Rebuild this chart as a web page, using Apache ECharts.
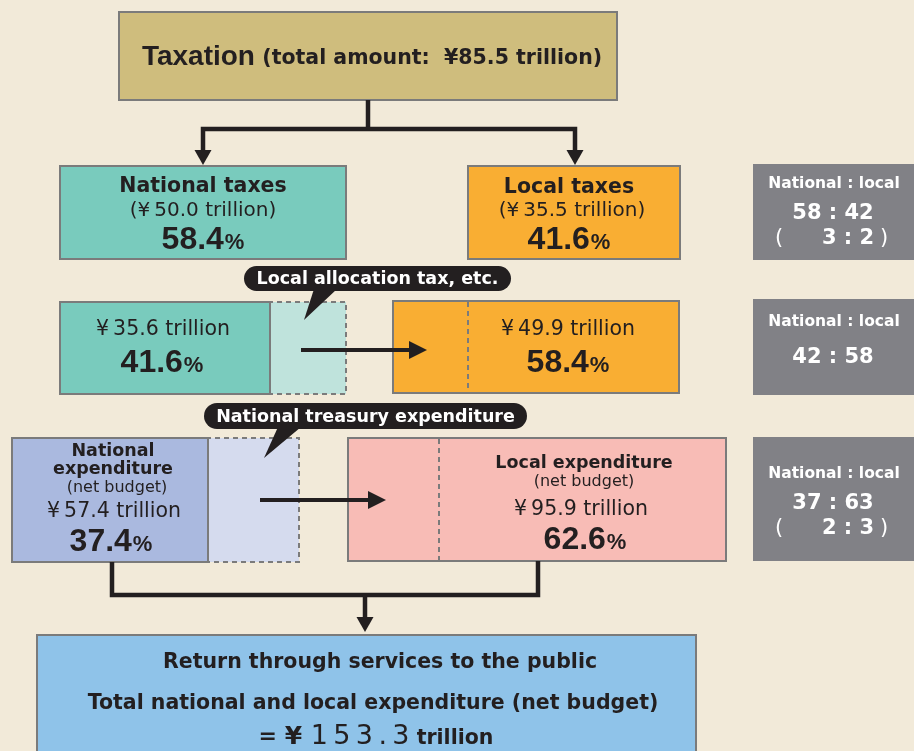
<!DOCTYPE html>
<html>
<head>
<meta charset="utf-8">
<script src="https://cdn.jsdelivr.net/npm/echarts@6/dist/echarts.min.js"></script>
<style>
  html, body { margin: 0; padding: 0; background: #f2ead9; }
  #main { width: 914px; height: 751px; }
</style>
</head>
<body>
<div id="main"></div>
<script>
// values (trillion yen / percent)
const totalTax = 85.5
const totalExpenditure = 153.3
const nationalAmounts = [50.0, 35.6, 57.4]   // taxes, after transfer, expenditure
const localAmounts = [35.5, 49.9, 95.9]
const nationalShares = [58.4, 41.6, 37.4]
const localShares = [41.6, 58.4, 62.6]
const ratioLabels = ['58 : 42', '42 : 58', '37 : 63']
const simpleRatios = ['3 : 2', '', '2 : 3']
const transferLabels = ['Local allocation tax, etc.', 'National treasury expenditure']

const WIDE = '"DejaVu Sans", sans-serif'
const ARIAL = '"Liberation Sans", Arial, sans-serif'
const INK = '#231f20'
const EDGE = '#7b7b7b'

function yen(v) {
  return '¥\u2009' + v.toFixed(1) + ' trillion'
}
function pct(v) {
  return '{n|' + v.toFixed(1) + '}{p|%}'
}
const pctRich = {
  n: { fontFamily: ARIAL, fontWeight: 'bold', fontSize: 32, fill: INK },
  p: { fontFamily: ARIAL, fontWeight: 'bold', fontSize: 22, fill: INK, padding: [6, 0, 0, 1] }
}

function box(x, y, w, h, fill, dashed) {
  return {
    type: 'rect', z: dashed ? 1 : 2,
    shape: { x: x, y: y, width: w, height: h },
    style: { fill: fill, stroke: EDGE, lineWidth: 2, lineDash: dashed ? [5, 4] : null }
  }
}
function txt(text, x, y, size, weight, font, color, rich) {
  return {
    type: 'text', z: 10,
    style: {
      text: text, x: x, y: y,
      fontFamily: font || WIDE, fontSize: size, fontWeight: weight || 'normal',
      fill: color || INK,
      align: 'center', verticalAlign: 'middle',
      textAlign: 'center', textVerticalAlign: 'middle',
      rich: rich
    }
  }
}
function vdash(x, y1, y2) {
  return { type: 'line', z: 3, shape: { x1: x, y1: y1, x2: x, y2: y2 },
    style: { stroke: EDGE, lineWidth: 2, lineDash: [5, 4] } }
}
function arrowRight(x1, x2, y) {
  return [
    { type: 'line', z: 6, shape: { x1: x1, y1: y, x2: x2 - 12, y2: y }, style: { stroke: INK, lineWidth: 4 } },
    { type: 'polygon', z: 6, shape: { points: [[x2 - 18, y - 9], [x2, y], [x2 - 18, y + 9]] }, style: { fill: INK } }
  ]
}
function arrowHeadDown(x, tip) {
  return { type: 'polygon', z: 6, shape: { points: [[x - 8.5, tip - 15], [x + 8.5, tip - 15], [x, tip]] }, style: { fill: INK } }
}
function bubble(x, y, w, h, tail, label) {
  return [
    { type: 'rect', z: 7, shape: { x: x, y: y, width: w, height: h, r: h / 2 }, style: { fill: INK } },
    { type: 'polygon', z: 7, shape: { points: tail }, style: { fill: INK } },
    txt(label, x + w / 2, y + h / 2 + 1, 17.5, 'bold', WIDE, '#ffffff')
  ]
}
function ratioBox(y, h, i, headY) {
  let els = [
    { type: 'rect', z: 2, shape: { x: 753, y: y, width: 170, height: h }, style: { fill: '#818186' } },
    txt('National : local', 834, headY, 15.5, 'bold', WIDE, '#ffffff'),
    txt(ratioLabels[i], 833, headY + (simpleRatios[i] ? 30 : 36), 21, 'bold', WIDE, '#ffffff')
  ]
  if (simpleRatios[i]) {
    let ry = headY + 55
    els.push(txt('(', 779, ry, 21, 'normal', WIDE, '#ffffff'))
    els.push(txt(simpleRatios[i], 848, ry, 21, 'bold', WIDE, '#ffffff'))
    els.push(txt(')', 884, ry, 21, 'normal', WIDE, '#ffffff'))
  }
  return els
}

let graphics = []

// taxation total
graphics.push(box(119, 12, 498, 88, '#cfbd7d'))
graphics.push(txt('{a|Taxation} {b|(total amount:  ¥' + totalTax.toFixed(1) + ' trillion)}', 372, 57, 21, 'bold', WIDE, INK, {
  a: { fontFamily: ARIAL, fontWeight: 'bold', fontSize: 28, fill: INK },
  b: { fontFamily: WIDE, fontWeight: 'bold', fontSize: 20.5, fill: INK, padding: [3, 0, 0, 0] }
}))
graphics.push({ type: 'line', z: 5, shape: { x1: 368, y1: 100, x2: 368, y2: 129 }, style: { stroke: INK, lineWidth: 4.5 } })
graphics.push({ type: 'polyline', z: 5, shape: { points: [[203, 153], [203, 129], [575, 129], [575, 153]] }, style: { stroke: INK, lineWidth: 4.5, lineJoin: 'miter' } })
graphics.push(arrowHeadDown(203, 165))
graphics.push(arrowHeadDown(575, 165))

// row 1: taxes
graphics.push(box(60, 166, 286, 93, '#79cbbd'))
graphics.push(txt('National taxes', 203, 187, 20.5, 'bold'))
graphics.push(txt('(' + yen(nationalAmounts[0]) + ')', 203, 211, 20))
graphics.push(txt(pct(nationalShares[0]), 203, 240, 32, 'bold', ARIAL, INK, pctRich))

graphics.push(box(468, 166, 212, 93, '#f9ae33'))
graphics.push(txt('Local taxes', 569, 188, 20.5, 'bold'))
graphics.push(txt('(' + yen(localAmounts[0]) + ')', 572, 211, 20))
graphics.push(txt(pct(localShares[0]), 569, 240, 32, 'bold', ARIAL, INK, pctRich))

graphics = graphics.concat(bubble(244, 266, 267, 25, [[314, 289], [337, 289], [304, 320]], transferLabels[0]))

// row 2: after the transfer
graphics.push(box(268, 302, 78, 92, '#bfe3dc', true))
graphics.push(box(60, 302, 210, 92, '#79cbbd'))
graphics.push(txt(yen(nationalAmounts[1]), 163, 330, 20.5))
graphics.push(txt(pct(nationalShares[1]), 162, 363, 32, 'bold', ARIAL, INK, pctRich))

graphics.push(box(393, 301, 286, 92, '#f9ae33'))
graphics.push(vdash(468, 302, 392))
graphics.push(txt(yen(localAmounts[1]), 568, 330, 20.5))
graphics.push(txt(pct(localShares[1]), 568, 363, 32, 'bold', ARIAL, INK, pctRich))
graphics = graphics.concat(arrowRight(301, 427, 350))

graphics = graphics.concat(bubble(204, 403, 323, 26, [[278, 427], [301, 427], [264, 458]], transferLabels[1]))

// row 3: expenditure
graphics.push(box(206, 438, 93, 124, '#d5dbee', true))
graphics.push(box(12, 438, 196, 124, '#aab9df'))
graphics.push(txt('National', 113, 451, 17.5, 'bold'))
graphics.push(txt('expenditure', 113, 469, 17.5, 'bold'))
graphics.push(txt('(net budget)', 117, 488, 16))
graphics.push(txt(yen(nationalAmounts[2]), 114, 512, 20.5))
graphics.push(txt(pct(nationalShares[2]), 111, 542, 32, 'bold', ARIAL, INK, pctRich))

graphics.push(box(348, 438, 378, 123, '#f8bcb6'))
graphics.push(vdash(439, 439, 560))
graphics.push(txt('Local expenditure', 584, 463, 17.5, 'bold'))
graphics.push(txt('(net budget)', 584, 482, 16))
graphics.push(txt(yen(localAmounts[2]), 581, 510, 20.5))
graphics.push(txt(pct(localShares[2]), 585, 540, 32, 'bold', ARIAL, INK, pctRich))
graphics = graphics.concat(arrowRight(260, 386, 500))

// merge to the total
graphics.push({ type: 'polyline', z: 5, shape: { points: [[112, 562], [112, 595], [538, 595], [538, 561]] }, style: { stroke: INK, lineWidth: 4.5, lineJoin: 'miter' } })
graphics.push({ type: 'line', z: 5, shape: { x1: 365, y1: 595, x2: 365, y2: 620 }, style: { stroke: INK, lineWidth: 4.5 } })
graphics.push(arrowHeadDown(365, 632))

graphics.push(box(37, 635, 659, 140, '#8fc3e9'))
graphics.push(txt('Return through services to the public', 380, 663, 20.5, 'bold'))
graphics.push(txt('Total national and local expenditure (net budget)', 373, 704, 20.5, 'bold'))
let totalDigits = totalExpenditure.toFixed(1).split('').join('\u2009')
graphics.push(txt('{e|= }{y|¥}{d| ' + totalDigits + '}{t| trillion}', 376, 737, 20.5, 'bold', WIDE, INK, {
  e: { fontFamily: WIDE, fontWeight: 'bold', fontSize: 22, fill: INK },
  y: { fontFamily: WIDE, fontWeight: 'bold', fontSize: 25, fill: INK },
  d: { fontFamily: WIDE, fontWeight: 'normal', fontSize: 27, fill: INK },
  t: { fontFamily: WIDE, fontWeight: 'bold', fontSize: 20.5, fill: INK, padding: [3, 0, 0, 0] }
}))

// ratio panels on the right
graphics = graphics.concat(ratioBox(164, 96, 0, 184))
graphics = graphics.concat(ratioBox(299, 96, 1, 322))
graphics = graphics.concat(ratioBox(437, 124, 2, 474))

const chart = echarts.init(document.getElementById('main'), null, { renderer: 'canvas' })
chart.setOption({
  backgroundColor: '#f2ead9',
  animation: false,
  graphic: { elements: graphics }
})
</script>
</body>
</html>
